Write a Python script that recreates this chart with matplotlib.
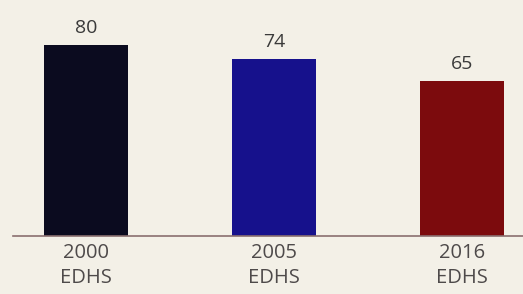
import matplotlib
matplotlib.use("Agg")
import matplotlib.pyplot as plt

# Datos del gráfico
encuestas = ["2000\nEDHS", "2005\nEDHS", "2016\nEDHS"]
valores = [80, 74, 65]
colores = ["#0b0b1f", "#16118c", "#7c0b0d"]

plt.rcParams['font.family'] = ['Open Sans', 'DejaVu Sans']

fig = plt.figure(figsize=(5.23, 2.94), dpi=100, facecolor="#f3f0e7")
ax = fig.add_axes([0.025, 0.197, 0.975, 0.803])
ax.set_facecolor("#f3f0e7")

x = range(len(valores))
barras = ax.bar(x, valores, width=0.447, color=colores)

for b, v in zip(barras, valores):
    ax.text(b.get_x() + b.get_width() / 2, v + 3.3, str(v), ha="center", va="bottom",
            fontsize=14, color="#3a3a3a")

ax.set_xlim(-0.388, 2.324)
ax.set_ylim(0, 98.7)
ax.set_xticks(list(x))
ax.set_xticklabels(encuestas, fontsize=14.5, color="#4e4a4a", linespacing=1.35)
ax.tick_params(axis="x", length=0, pad=5)
ax.set_yticks([])
for lado in ["top", "right", "left"]:
    ax.spines[lado].set_visible(False)
ax.spines["bottom"].set_color("#8a6f6f")
ax.spines["bottom"].set_linewidth(1.2)

fig.savefig("out.png", dpi=100, facecolor=fig.get_facecolor())
